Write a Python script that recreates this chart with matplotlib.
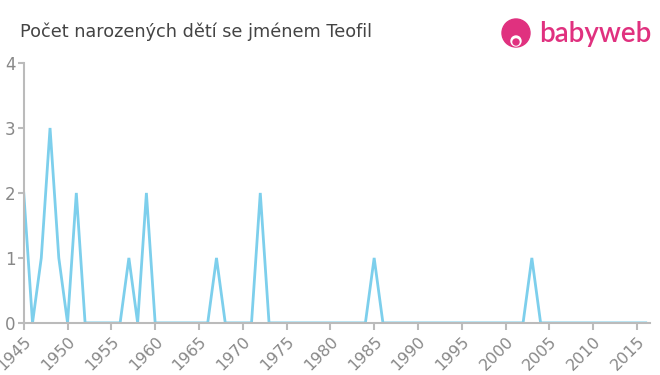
import numpy as np
import matplotlib
matplotlib.use('Agg')
import matplotlib.pyplot as plt
from matplotlib.patches import Circle

# data
years = list(range(1945, 2017))
nonzero = {1945: 2, 1947: 1, 1948: 3, 1949: 1, 1951: 2, 1957: 1, 1959: 2,
           1967: 1, 1972: 2, 1985: 1, 2003: 1}
counts = [nonzero.get(y, 0) for y in years]
xticks = list(range(1945, 2016, 5))
yticks = [0, 1, 2, 3, 4]

title = 'Počet narozených dětí se jménem Teofil'
line_color = '#7dcfec'
grey = '#888888'
axis_grey = '#bbbbbb'
pink = '#e0317f'

fig = plt.figure(figsize=(6.6, 3.75), dpi=100)
ax = fig.add_axes([0.036, 0.139, 0.949, 0.693])
ax.plot(years, counts, color=line_color, lw=2, solid_joinstyle='miter')
ax.set_xlim(1945, 2016.5)
ax.set_ylim(0, 4)
ax.set_xticks(xticks)
ax.set_xticklabels([str(x) for x in xticks], rotation=45, ha='right',
                   va='top', rotation_mode='anchor')
ax.set_yticks(yticks)
for s in ['top', 'right']:
    ax.spines[s].set_visible(False)
for s in ['left', 'bottom']:
    ax.spines[s].set_color(axis_grey)
    ax.spines[s].set_linewidth(1.5)
ax.tick_params(axis='x', colors=axis_grey, labelcolor=grey, labelsize=11.5,
               length=5, width=1.5, pad=3)
ax.tick_params(axis='y', colors=axis_grey, labelcolor=grey, labelsize=12,
               length=4, width=1.5, pad=2)

fig.text(0.03, 0.915, title, fontsize=12.7, color='#444444', va='center')

# logo
lax = fig.add_axes([0, 0, 1, 1], facecolor='none')
lax.set_xlim(0, 660)
lax.set_ylim(375, 0)
lax.axis('off')
lax.add_patch(Circle((516, 33), 14, color=pink))
lax.add_patch(Circle((516, 41), 5, color='white'))
lax.add_patch(Circle((516, 42), 3, color=pink))
lax.text(539, 34, 'babyweb', fontsize=20, color=pink, va='center',
         ha='left', family='Lato', fontweight='semibold')

fig.savefig('out.png', dpi=100)
